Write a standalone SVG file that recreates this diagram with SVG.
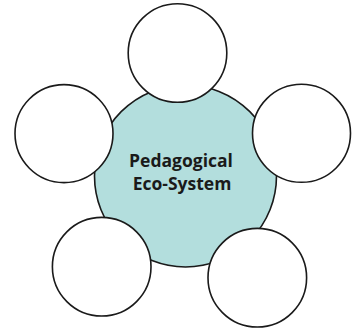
<svg xmlns="http://www.w3.org/2000/svg" width="352" height="328" viewBox="0 0 352 328">
<style>
.c{stroke:#1a1a1a;stroke-width:1.6}
.s{fill:#ffffff}
.hub{fill:#b3dedd}
.t{font-family:"Open Sans","Noto Sans",sans-serif;font-weight:700;font-size:17.5px;fill:#1a1a1a;text-anchor:middle}
</style>
<g id="hub"><circle class="c hub" cx="185.5" cy="176" r="91"/>
<text class="t" x="181" y="166.5">Pedagogical</text>
<text class="t" x="182" y="190">Eco-System</text></g>
<g id="connectors"></g>
<g id="top"><circle class="c s" cx="177.5" cy="53" r="49.3"/></g>
<g id="left"><circle class="c s" cx="64" cy="133.6" r="49"/></g>
<g id="right"><circle class="c s" cx="301.5" cy="133.3" r="49"/></g>
<g id="bottom-left"><circle class="c s" cx="101.7" cy="266.7" r="49.3"/></g>
<g id="bottom-right"><circle class="c s" cx="257.3" cy="277.7" r="49.3"/></g>
</svg>
